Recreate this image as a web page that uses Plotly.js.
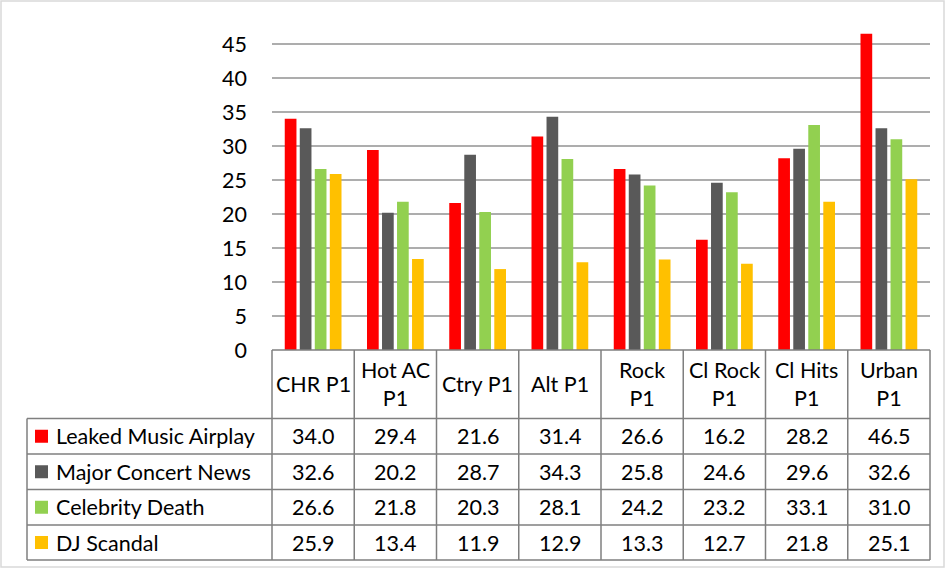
<!DOCTYPE html>
<html><head><meta charset="utf-8">
<script src="https://cdn.plot.ly/plotly-3.0.1.min.js"></script>
<style>html,body{margin:0;padding:0;background:#fff;}#chart{width:948px;height:569px;}</style>
</head><body><div id="chart"></div>
<script>
const categories = ['CHR P1', 'Hot AC P1', 'Ctry P1', 'Alt P1', 'Rock P1', 'Cl Rock P1', 'Cl Hits P1', 'Urban P1'];
const headerLabels = ['CHR P1', 'Hot AC<br>P1', 'Ctry P1', 'Alt P1', 'Rock<br>P1', 'Cl Rock<br>P1', 'Cl Hits<br>P1', 'Urban<br>P1'];
const seriesNames = ['Leaked Music Airplay', 'Major Concert News', 'Celebrity Death', 'DJ Scandal'];
const leakedMusicAirplay = [34.0, 29.4, 21.6, 31.4, 26.6, 16.2, 28.2, 46.5];
const majorConcertNews = [32.6, 20.2, 28.7, 34.3, 25.8, 24.6, 29.6, 32.6];
const celebrityDeath = [26.6, 21.8, 20.3, 28.1, 24.2, 23.2, 33.1, 31.0];
const djScandal = [25.9, 13.4, 11.9, 12.9, 13.3, 12.7, 21.8, 25.1];
const seriesValues = [leakedMusicAirplay, majorConcertNews, celebrityDeath, djScandal];
const seriesColors = ['#FF0000', '#595959', '#92D050', '#FFC000'];
const yTicks = [0, 5, 10, 15, 20, 25, 30, 35, 40, 45];

const W = 948, H = 569, L = 272, R = 930, T = 24, B = 350;
const FONT = 'Lato, "Open Sans", sans-serif';
const FS = 21.5;
function xp(px) { return (px - L) / (R - L); }
function yp(py) { return (B - py) / (B - T); }
const nCat = categories.length;
function colX(i) { return L + i * (R - L) / nCat; }
const rowY = [350, 418.5, 454, 489.5, 525, 560];
const tableLeft = 27;
const lineColor = '#7F7F7F';

const traces = seriesNames.map((name, s) => ({
  type: 'bar', name: name, x: categories, y: seriesValues[s],
  marker: { color: seriesColors[s] }, hoverinfo: 'skip'
}));

const shapes = [];
const annotations = [];
function hline(x0, x1, y) {
  shapes.push({ type: 'line', xref: 'paper', yref: 'paper', x0: xp(x0), x1: xp(x1), y0: yp(y), y1: yp(y), line: { color: lineColor, width: 1.5 } });
}
function vline(x, y0, y1) {
  shapes.push({ type: 'line', xref: 'paper', yref: 'paper', x0: xp(x), x1: xp(x), y0: yp(y0), y1: yp(y1), line: { color: lineColor, width: 1.5 } });
}
hline(L, R, rowY[0]);
for (let r = 1; r < rowY.length; r++) hline(tableLeft, R, rowY[r]);
for (let i = 0; i <= nCat; i++) vline(colX(i), rowY[0], rowY[rowY.length - 1]);
vline(tableLeft, rowY[1], rowY[rowY.length - 1]);

// outer chart border
shapes.push({ type: 'rect', xref: 'paper', yref: 'paper', x0: xp(1), x1: xp(944), y0: yp(1), y1: yp(567), line: { color: '#D9D9D9', width: 1.5 } });

// header labels
for (let i = 0; i < nCat; i++) {
  annotations.push({ xref: 'paper', yref: 'paper', x: xp((colX(i) + colX(i + 1)) / 2), y: yp((rowY[0] + rowY[1]) / 2),
    text: headerLabels[i], showarrow: false, xanchor: 'center', yanchor: 'middle', align: 'center',
    font: { family: FONT, size: FS, color: '#000' } });
}
// rows
for (let s = 0; s < seriesNames.length; s++) {
  const yc = (rowY[s + 1] + rowY[s + 2]) / 2;
  shapes.push({ type: 'rect', xref: 'paper', yref: 'paper', x0: xp(35), x1: xp(48), y0: yp(yc - 6.5), y1: yp(yc + 6.5), fillcolor: seriesColors[s], line: { width: 0 } });
  annotations.push({ xref: 'paper', yref: 'paper', x: xp(54), y: yp(yc), text: seriesNames[s], showarrow: false,
    xanchor: 'left', yanchor: 'middle', font: { family: FONT, size: FS, color: '#000' } });
  for (let i = 0; i < nCat; i++) {
    annotations.push({ xref: 'paper', yref: 'paper', x: xp((colX(i) + colX(i + 1)) / 2), y: yp(yc),
      text: seriesValues[s][i].toFixed(1), showarrow: false, xanchor: 'center', yanchor: 'middle',
      font: { family: FONT, size: FS, color: '#000' } });
  }
}

const layout = {
  width: W, height: H,
  margin: { l: L, r: W - R, t: T, b: H - B, pad: 0 },
  paper_bgcolor: '#fff', plot_bgcolor: '#fff',
  barmode: 'group', bargap: 0.27, bargroupgap: 0.22,
  showlegend: false,
  xaxis: { type: 'category', range: [-0.5, nCat - 0.5], showticklabels: false, showgrid: false, zeroline: false, showline: false, ticks: '' },
  yaxis: { range: [0, (B - T) / 6.8], tickvals: yTicks, ticktext: yTicks.map(String), showgrid: true, gridcolor: '#ADADAD', gridwidth: 1.5,
    zeroline: false, showline: false, ticks: '', ticklabelstandoff: 24, tickfont: { family: FONT, size: FS, color: '#000' } },
  shapes: shapes, annotations: annotations
};
Plotly.newPlot('chart', traces, layout, { displayModeBar: false, staticPlot: true });
</script></body></html>
